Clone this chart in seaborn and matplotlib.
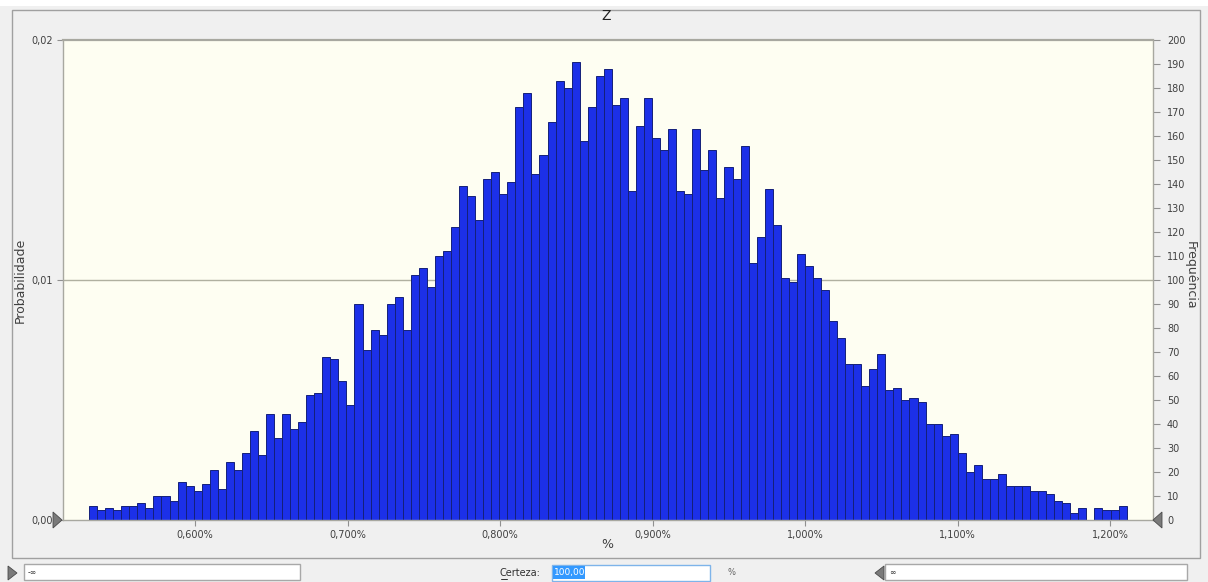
import numpy as np
import pandas as pd
import matplotlib
matplotlib.use("Agg")
import matplotlib.pyplot as plt
import seaborn as sns
from matplotlib.patches import Rectangle, Polygon
from matplotlib.lines import Line2D

# ---------------- data ----------------
title = "Z"
counts = [6, 4, 5, 4, 6, 6, 7, 5, 10, 10, 8, 16, 14, 12, 15, 21, 13, 24, 21, 28,
          37, 27, 44, 34, 44, 38, 41, 52, 53, 68, 67, 58, 48, 90, 71, 79, 77, 90, 93, 79,
          102, 105, 97, 110, 112, 122, 139, 135, 125, 142, 145, 136, 141, 172, 178, 144, 152, 166, 183, 180,
          191, 158, 172, 185, 188, 173, 176, 137, 164, 176, 159, 154, 163, 137, 136, 163, 146, 154, 134, 147,
          142, 156, 107, 118, 138, 123, 101, 99, 111, 106, 101, 96, 83, 76, 65, 65, 56, 63, 69, 54,
          55, 50, 51, 49, 40, 40, 35, 36, 28, 20, 23, 17, 17, 19, 14, 14, 14, 12, 12, 11,
          8, 7, 3, 5, 0, 5, 4, 4, 6]
z_min, z_max = 0.5305, 1.2109          # range of the simulated values (%)
trials = 10000
x_ticks = [0.6, 0.7, 0.8, 0.9, 1.0, 1.1, 1.2]
x_tick_labels = ["0,600%", "0,700%", "0,800%", "0,900%", "1,000%", "1,100%", "1,200%"]
freq_ticks = list(range(0, 201, 10))
prob_ticks = [0.0, 0.01, 0.02]
prob_tick_labels = ["0,00", "0,01", "0,02"]
certainty = "100,00"
lower_text = "-∞"
upper_text = "∞"

edges = np.linspace(z_min, z_max, len(counts) + 1)
centers = (edges[:-1] + edges[1:]) / 2
df = pd.DataFrame({"z": centers, "n": counts})

# ---------------- style ----------------
W, H = 1208, 582
BG = "#f0f0f0"
PLOT_BG = "#fefef2"
BAR = "#1c30e8"
EDGE = "#14207a"
TXT = "#404040"
SPINE = "#a8a8a0"

sns.set_theme(style="white")
plt.rcParams["font.family"] = ["DejaVu Sans"]

fig = plt.figure(figsize=(W / 100, H / 100), dpi=100, facecolor=BG)

def fx(px):
    return px / W

def fy(py):
    return 1 - py / H

L, R, T, B = 62.7, 1153, 40, 520
ax = fig.add_axes([fx(L), fy(B), fx(R) - fx(L), fy(T) - fy(B)])
ax.set_facecolor(PLOT_BG)

def xa(px):
    return (px - L) / (R - L)

def ya(py):
    return (B - py) / (B - T)

# gridline at 0.01 probability
ax.axhline(prob_ticks[1] * trials, color="#b0b0a0", lw=1.0, zorder=0)

sns.histplot(data=df, x="z", weights="n", bins=edges.tolist(), stat="count",
             color=BAR, edgecolor=EDGE, linewidth=0.7, alpha=1.0, ax=ax, zorder=2)

ax.set_xlim(0.5132, 1.2282)
ax.set_ylim(0, 200)

for s in ax.spines.values():
    s.set_color(SPINE)
    s.set_linewidth(1.0)
ax.spines["top"].set_linewidth(1.6)

ax.set_xticks(x_ticks)
ax.set_xticklabels(x_tick_labels)
ax.yaxis.tick_right()
ax.set_yticks(freq_ticks)
ax.set_yticklabels([str(v) for v in freq_ticks])
ax.tick_params(axis="x", direction="out", length=4, width=0.8, color="#909090",
               labelsize=7, labelcolor=TXT, pad=3, bottom=True)
ax.tick_params(axis="y", direction="out", length=5, width=0.8, color="#909090",
               labelsize=7, labelcolor=TXT, pad=5, right=True, left=False)

ax.set_xlabel("%", fontsize=9, color=TXT)
ax.xaxis.label.set_va("center")
ax.xaxis.set_label_coords(xa(607), ya(545))

ax.set_ylabel("Frequência", fontsize=9, color=TXT, rotation=270)
ax.yaxis.label.set_va("center")
ax.yaxis.label.set_ha("center")
ax.yaxis.set_label_coords(xa(1190), ya(275))

sec = ax.secondary_yaxis("left", functions=(lambda c: c / trials, lambda p: p * trials))
sec.set_yticks(prob_ticks)
sec.set_yticklabels(prob_tick_labels)
sec.tick_params(direction="out", length=4, width=0.8, color="#909090",
                labelsize=7, labelcolor=TXT, pad=3)
sec.spines["left"].set_visible(False)
sec.set_ylabel("Probabilidade", fontsize=9, color=TXT, labelpad=3)

# title
fig.text(fx(606), fy(16), title, fontsize=10, color="#202020", ha="center", va="center")

# ---------------- window chrome ----------------
tf = fig.transFigure
fig.patches.append(Rectangle((0, fy(6)), 1, 1 - fy(6), transform=tf,
                             facecolor="white", edgecolor="none", zorder=0))
fig.patches.append(Rectangle((fx(12), fy(558)), fx(1200) - fx(12), fy(10) - fy(558),
                             transform=tf, facecolor="none", edgecolor="#a0a0a0", lw=1.0))

def tri(points):
    fig.patches.append(Polygon([(fx(x), fy(y)) for x, y in points], closed=True,
                               transform=tf, facecolor="#7a7a7a", edgecolor="#4a4a4a",
                               lw=0.6, zorder=5))

# grabbers on the plot
tri([(53, 512), (62, 520), (53, 528)])
tri([(1162, 512), (1153, 520), (1162, 528)])
# bottom triangles
tri([(8, 566), (17, 573), (8, 580)])
tri([(884, 566), (875, 573), (884, 580)])

def box(x0, x1, y0, y1, ec="#a8a8a8"):
    fig.patches.append(Rectangle((fx(x0), fy(y1)), fx(x1) - fx(x0), fy(y0) - fy(y1),
                                 transform=tf, facecolor="white", edgecolor=ec, lw=1.0))

box(24, 300, 564, 580)
box(552, 710, 565, 581, ec="#7eb4ea")
box(885, 1187, 564, 580)

fig.text(fx(28), fy(572), lower_text, fontsize=5.5, color="#303030", va="center", ha="left")
fig.text(fx(889), fy(572), upper_text, fontsize=5.5, color="#303030", va="center", ha="left")

fig.patches.append(Rectangle((fx(553), fy(579)), fx(585) - fx(553), fy(566) - fy(579),
                             transform=tf, facecolor="#3399ff", edgecolor="none", zorder=3))
fig.text(fx(554), fy(572.5), certainty, fontsize=6.5, color="white", va="center", ha="left", zorder=4)
fig.text(fx(540), fy(572.5), "Certeza:", fontsize=7, color="#303030", va="center", ha="right")
fig.lines.append(Line2D([fx(501), fx(507)], [fy(578.5), fy(578.5)], transform=tf,
                        color="#303030", lw=0.7))
fig.text(fx(727), fy(572.5), "%", fontsize=6, color="#606060", va="center", ha="left")

fig.savefig("out.png", dpi=100, facecolor=BG)
